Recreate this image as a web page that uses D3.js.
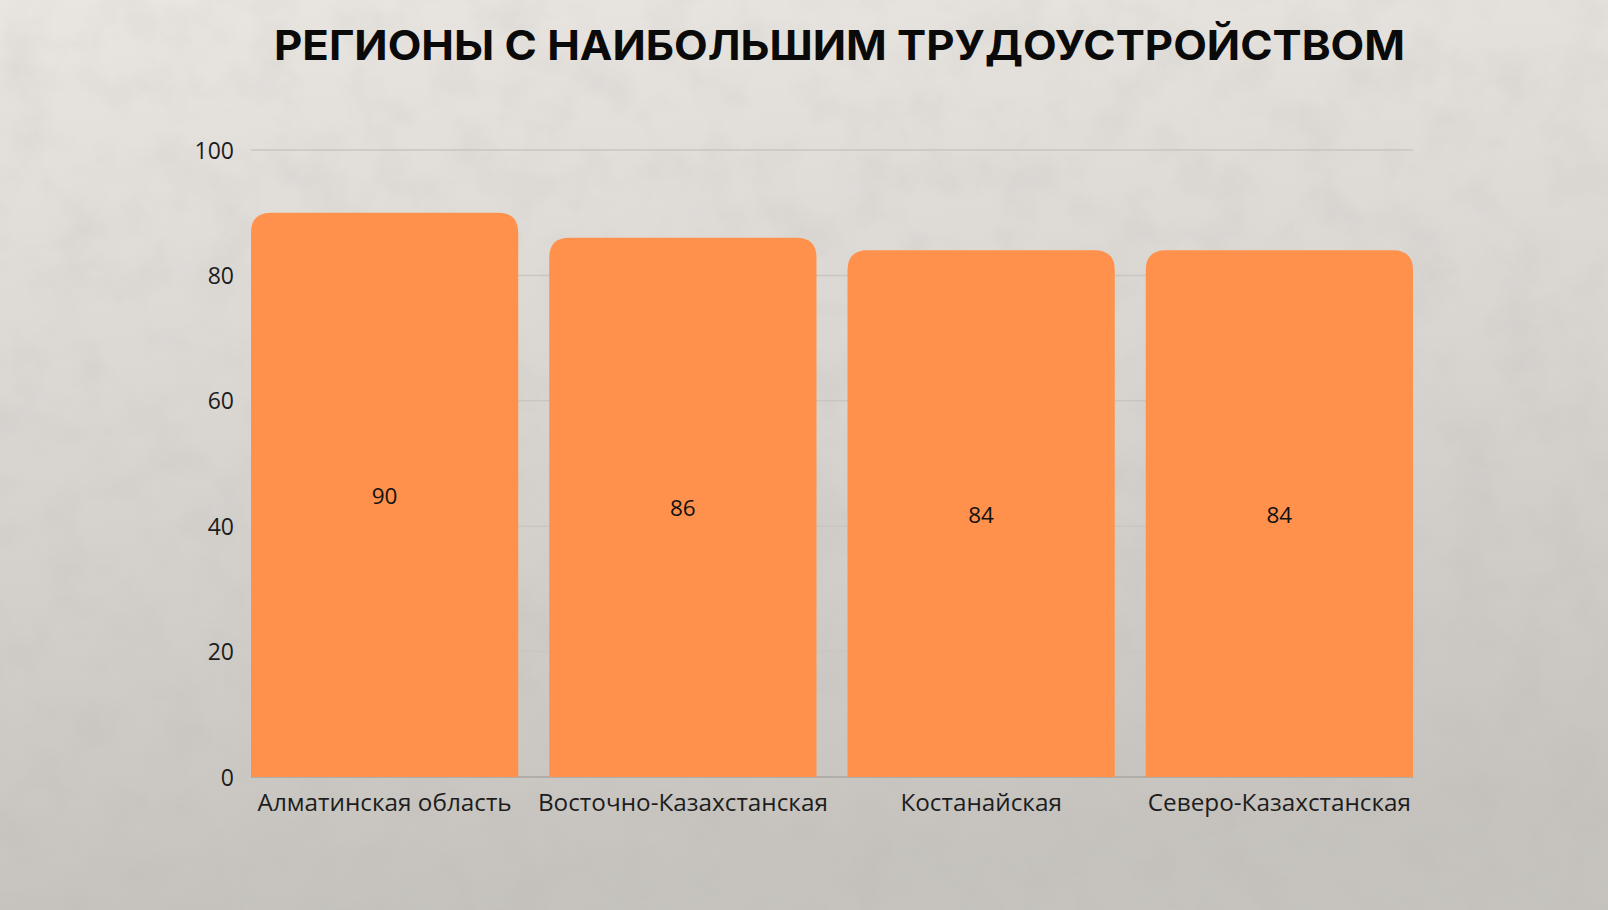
<!DOCTYPE html>
<html>
<head>
<meta charset="utf-8">
<script src="https://cdn.jsdelivr.net/npm/d3@7"></script>
<style>
  html, body { margin: 0; padding: 0; width: 1608px; height: 910px; overflow: hidden; }
  svg { display: block; }
</style>
</head>
<body>
<svg id="chart" width="1608" height="910"></svg>
<script>
const title = "РЕГИОНЫ С НАИБОЛЬШИМ ТРУДОУСТРОЙСТВОМ";
const categories = ["Алматинская область", "Восточно-Казахстанская", "Костанайская", "Северо-Казахстанская"];
const values = [90, 86, 84, 84];
const yTicks = [0, 20, 40, 60, 80, 100];

const W = 1608, H = 910;
const margin = { left: 251, right: W - 1413, top: 150, bottom: H - 777 };
const svg = d3.select("#chart");

// background
const defs = svg.append("defs");
const bg = defs.append("linearGradient").attr("id", "bg").attr("x1", 0).attr("y1", 0).attr("x2", 0.15).attr("y2", 1);
bg.append("stop").attr("offset", "0%").attr("stop-color", "#e9e5e1");
bg.append("stop").attr("offset", "45%").attr("stop-color", "#dad7d3");
bg.append("stop").attr("offset", "100%").attr("stop-color", "#c6c3be");
const f = defs.append("filter").attr("id", "noise").attr("x", 0).attr("y", 0).attr("width", "100%").attr("height", "100%");
f.append("feTurbulence").attr("type", "fractalNoise").attr("baseFrequency", 0.02).attr("numOctaves", 5).attr("seed", 11).attr("result", "t");
f.append("feColorMatrix").attr("type", "matrix")
  .attr("values", "0 0 0 0 0.45  0 0 0 0 0.44  0 0 0 0 0.42  0 0 0 -1.3 0.75");
svg.append("rect").attr("width", W).attr("height", H).attr("fill", "url(#bg)");
svg.append("rect").attr("width", W).attr("height", H).attr("filter", "url(#noise)").attr("opacity", 0.25);

const x = d3.scaleBand().domain(categories).range([margin.left, W - margin.right]).paddingInner(0.104).paddingOuter(0);
const y = d3.scaleLinear().domain([0, 100]).range([H - margin.bottom, margin.top]);

// gridlines
svg.append("g").selectAll("line").data(yTicks).join("line")
  .attr("x1", margin.left).attr("x2", W - margin.right)
  .attr("y1", d => y(d)).attr("y2", d => y(d))
  .attr("stroke", d => d === 0 ? "#a8a5a1" : "#c9c5c1").attr("stroke-width", 1.5);

// y axis labels
const yAxis = d3.axisLeft(y).tickValues(yTicks).tickSize(0).tickPadding(0);
const gy = svg.append("g").attr("transform", `translate(${234},0)`).call(yAxis);
gy.select(".domain").remove();
gy.selectAll("text").attr("font-family", "'Open Sans', sans-serif").attr("font-size", 23).attr("fill", "#1d1d1d").attr("dy", "0.35em");

// bars with rounded top corners
const r = 20;
function barPath(x0, w, yTop, yBot) {
  return `M${x0},${yBot} L${x0},${yTop + r} Q${x0},${yTop} ${x0 + r},${yTop} L${x0 + w - r},${yTop} Q${x0 + w},${yTop} ${x0 + w},${yTop + r} L${x0 + w},${yBot} Z`;
}
const data = categories.map((c, i) => ({ c, v: values[i] }));
svg.append("g").selectAll("path").data(data).join("path")
  .attr("d", d => barPath(x(d.c), x.bandwidth(), y(d.v), y(0)))
  .attr("fill", "#ff914d");

// value labels
svg.append("g").selectAll("text").data(data).join("text")
  .attr("x", d => x(d.c) + x.bandwidth() / 2)
  .attr("y", d => (y(d.v) + y(0)) / 2 + 1)
  .attr("dy", "0.35em")
  .attr("text-anchor", "middle")
  .attr("font-family", "'Open Sans', sans-serif").attr("font-size", 22.5).attr("fill", "#111")
  .text(d => d.v);

// x axis labels
const xAxis = d3.axisBottom(x).tickSize(0).tickPadding(0);
const gx = svg.append("g").attr("transform", `translate(0,${y(0) + 17})`).call(xAxis);
gx.select(".domain").remove();
gx.selectAll("text").attr("font-family", "'Open Sans', sans-serif").attr("font-size", 24.3).attr("fill", "#1d1d1d").attr("dy", "0.71em");

// title
svg.append("text").attr("x", 839.5).attr("y", 60).attr("text-anchor", "middle")
  .attr("font-family", "Inter, 'Noto Sans', sans-serif").attr("font-weight", 700).attr("font-size", 41)
  .attr("textLength", 1131).attr("lengthAdjust", "spacingAndGlyphs")
  .attr("fill", "#0a0a0a").text(title);
</script>
</body>
</html>
